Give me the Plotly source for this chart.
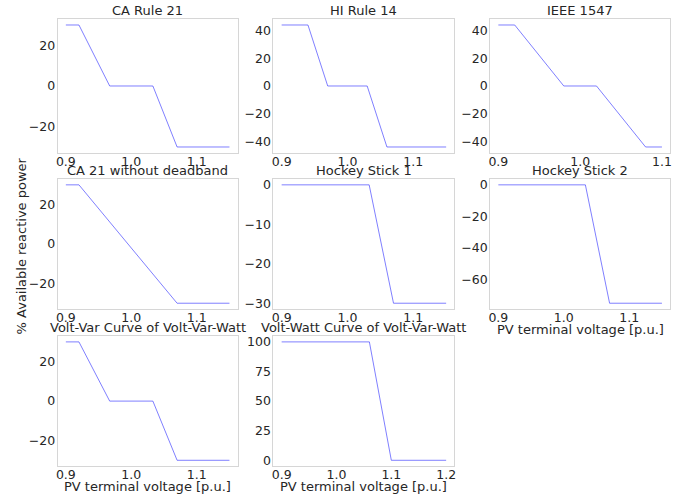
import plotly.graph_objects as go

# ---- data ----
titles = ["CA Rule 21", "HI Rule 14", "IEEE 1547",
          "CA 21 without deadband", "Hockey Stick 1", "Hockey Stick 2",
          "Volt-Var Curve of Volt-Var-Watt", "Volt-Watt Curve of Volt-Var-Watt"]

ca21_v = [0.9, 0.92, 0.967, 1.033, 1.07, 1.15]
ca21_q = [30, 30, 0, 0, -30, -30]

hi14_v = [0.9, 0.94, 0.97, 1.03, 1.06, 1.15]
hi14_q = [44, 44, 0, 0, -44, -44]

ieee_v = [0.9, 0.92, 0.98, 1.02, 1.08, 1.1]
ieee_q = [44, 44, 0, 0, -44, -44]

nodb_v = [0.9, 0.92, 1.07, 1.15]
nodb_q = [30, 30, -30, -30]

hs1_v = [0.9, 1.033, 1.07, 1.15]
hs1_q = [0, 0, -30, -30]

hs2_v = [0.9, 1.033, 1.07, 1.15]
hs2_q = [0, 0, -75, -75]

vvw_var_v = [0.9, 0.92, 0.967, 1.033, 1.07, 1.15]
vvw_var_q = [30, 30, 0, 0, -30, -30]

vvw_watt_v = [0.9, 1.06, 1.1, 1.2]
vvw_watt_p = [100, 100, 0, 0]

series = [(ca21_v, ca21_q), (hi14_v, hi14_q), (ieee_v, ieee_q),
          (nodb_v, nodb_q), (hs1_v, hs1_q), (hs2_v, hs2_q),
          (vvw_var_v, vvw_var_q), (vvw_watt_v, vvw_watt_p)]
y_dticks = [20, 20, 20, 20, 10, 20, 20, 25]
xlabel = "PV terminal voltage [p.u.]"
ylabel = "% Available reactive power"
xlabel_panels = [6, 7, 8]   # 1-based panel numbers carrying the x label

# ---- layout geometry (pixels) ----
W, H = 693, 500
cols_px = [(56, 237), (273, 455), (491, 672)]
rows_px = [(17, 152), (178, 309), (336, 467)]

font = "DejaVu Sans"
txt = "#262626"
fig = go.Figure()
annotations = []

for i, (xs, ys) in enumerate(series):
    r, c = divmod(i, 3)
    ax = "" if i == 0 else str(i + 1)
    x0, x1 = cols_px[c]
    yt, yb = rows_px[r]
    fig.add_trace(go.Scatter(x=xs, y=ys, mode="lines",
                             line=dict(color="rgba(0,0,255,0.5)", width=1),
                             xaxis="x" + ax, yaxis="y" + ax, showlegend=False))
    xmin, xmax = min(xs), max(xs)
    ymin, ymax = min(ys), max(ys)
    mx = (xmax - xmin) * 0.05
    my = (ymax - ymin) * 0.05
    common = dict(showline=True, mirror=True, linecolor="#d6d6d6", linewidth=1,
                  showgrid=False, zeroline=False, ticks="",
                  tickfont=dict(family=font, size=12.5, color=txt))
    fig.update_layout(**{
        "xaxis" + ax: dict(domain=[x0 / W, x1 / W], anchor="y" + ax,
                           range=[xmin - mx, xmax + mx], dtick=0.1,
                           tickformat=".1f", ticklabelstandoff=-3, **common),
        "yaxis" + ax: dict(domain=[1 - yb / H, 1 - yt / H], anchor="x" + ax,
                           range=[ymin - my, ymax + my], dtick=y_dticks[i],
                           ticklabelstandoff=-1, **common),
    })
    annotations.append(dict(text=titles[i], x=(x0 + x1) / 2 / W, y=1 - yt / H,
                            xref="paper", yref="paper", xanchor="center",
                            yanchor="bottom", showarrow=False, yshift=-1,
                            font=dict(family=font, size=13, color=txt)))
    if i + 1 in xlabel_panels:
        annotations.append(dict(text=xlabel, x=(x0 + x1) / 2 / W, y=1 - yb / H,
                                xref="paper", yref="paper", xanchor="center",
                                yanchor="top", showarrow=False, yshift=-11,
                                font=dict(family=font, size=13, color=txt)))

annotations.append(dict(text=ylabel, x=20 / W, y=1 - 245 / H, xref="paper",
                        yref="paper", xanchor="center", yanchor="middle",
                        textangle=-90, showarrow=False,
                        font=dict(family=font, size=13, color=txt)))

fig.update_layout(width=W, height=H, margin=dict(l=0, r=0, t=0, b=0),
                  paper_bgcolor="white", plot_bgcolor="white",
                  annotations=annotations)
fig.write_html("out.html", config={"displayModeBar": False},
               post_script="document.body.style.margin='0';")
